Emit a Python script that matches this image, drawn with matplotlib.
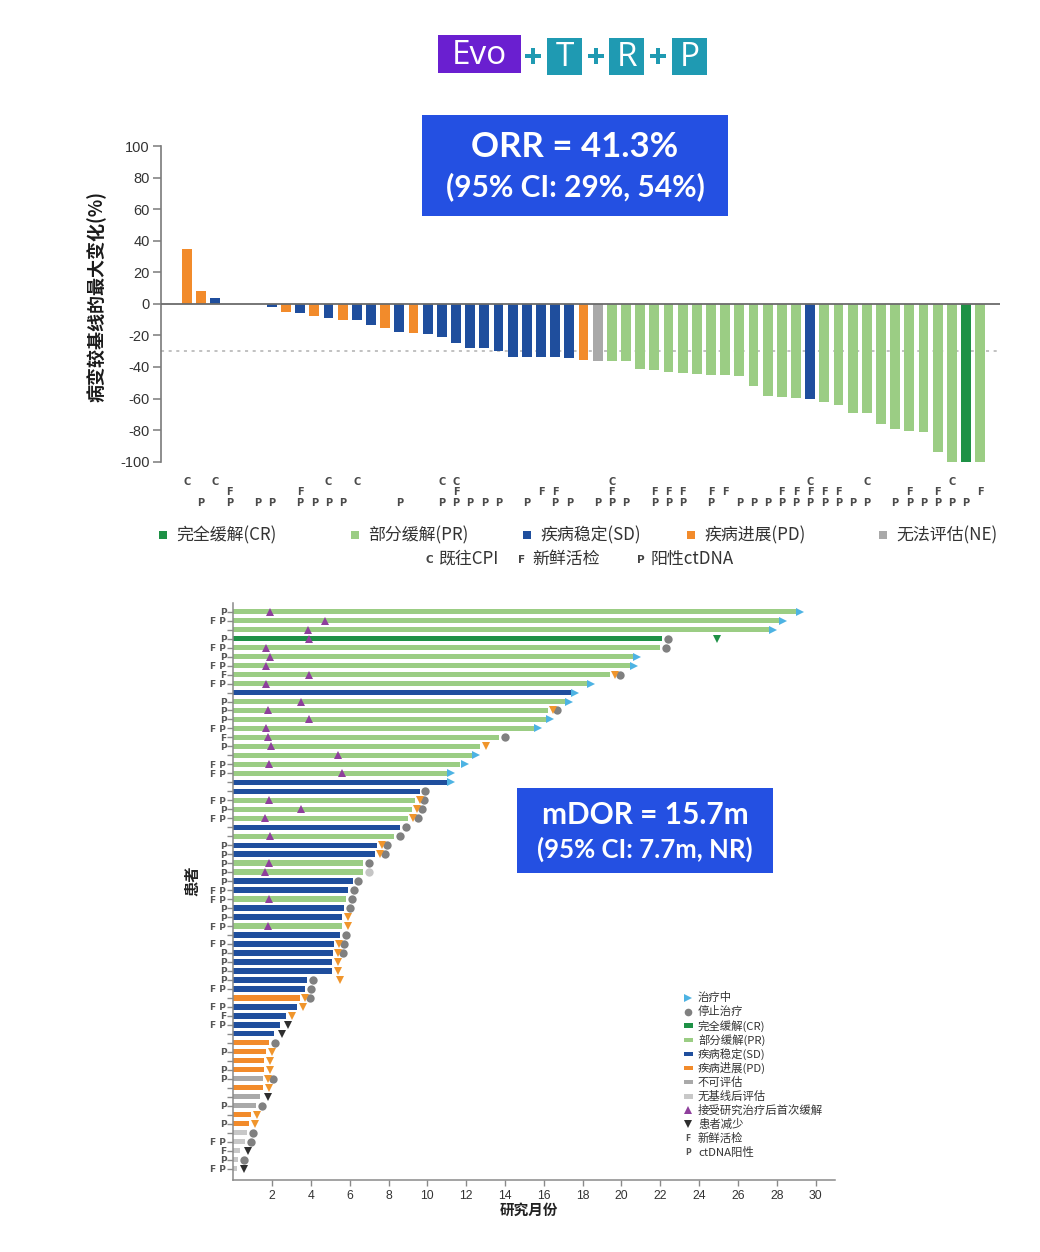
import matplotlib
matplotlib.use("Agg")
import matplotlib.pyplot as plt
from matplotlib.patches import Rectangle
from matplotlib.lines import Line2D

plt.rcParams['font.family'] = ['Noto Sans CJK SC', 'DejaVu Sans']

# ---------------- data: waterfall (best % change from baseline) ----------------
wf_change = [35, 8, 3.5, 0, 0, 0, -2, -5, -5.5, -8, -9, -10, -10.5, -13.5, -15, -18,
             -18.5, -19, -21, -25, -28, -28, -30, -33.5, -33.5, -33.5, -33.5, -34, -35.5,
             -36, -36.5, -36.5, -41, -42, -43, -44, -44.5, -45, -45, -46, -52, -58.5,
             -59, -59.5, -60, -62, -64, -69, -69, -76, -79, -80.5, -81.5, -94, -100,
             -100, -100]
wf_response = (['PD', 'PD', 'SD', 'SD', 'SD', 'SD', 'SD', 'PD', 'SD', 'PD', 'SD', 'PD',
                'SD', 'SD', 'PD', 'SD', 'PD'] + ['SD'] * 11 + ['PD', 'NE'] + ['PR'] * 14
               + ['SD'] + ['PR'] * 10 + ['CR', 'PR'])
wf_flags = ['C', 'P', 'C', 'FP', '', 'P', 'P', '', 'FP', 'P', 'CP', 'P', 'C', '', '', 'P',
            '', '', 'CP', 'CFP', 'P', 'P', 'P', '', 'P', 'F', 'FP', 'P', '', 'P', 'CFP',
            'P', '', 'FP', 'FP', 'FP', '', 'FP', 'F', 'P', 'P', 'P', 'FP', 'FP', 'CFP',
            'FP', 'FP', 'P', 'CP', '', 'P', 'FP', 'P', 'FP', 'CP', 'P', 'F']
wf_yticks = list(range(-100, 101, 20))
orr_lines = ['ORR = 41.3%', '(95% CI: 29%, 54%)']

# ---------------- data: swimmer (months on study, one row per patient) ----------------
sw_duration = [29.0, 28.1, 27.6, 22.1, 22.0, 20.6, 20.45, 19.4, 18.2, 17.4, 17.1, 16.2,
               16.1, 15.5, 13.7, 12.7, 12.3, 11.7, 11.0, 11.0, 9.6, 9.35, 9.2, 9.0, 8.6,
               8.3, 7.4, 7.3, 6.7, 6.7, 6.15, 5.9, 5.8, 5.7, 5.6, 5.6, 5.5, 5.2, 5.15,
               5.1, 5.1, 3.8, 3.7, 3.45, 3.3, 2.7, 2.4, 2.1, 1.85, 1.7, 1.6, 1.6, 1.55,
               1.55, 1.4, 1.17, 0.9, 0.8, 0.7, 0.6, 0.35, 0.25, 0.17]
sw_response = ['PR', 'PR', 'PR', 'CR', 'PR', 'PR', 'PR', 'PR', 'PR', 'SD', 'PR', 'PR',
               'PR', 'PR', 'PR', 'PR', 'PR', 'PR', 'PR', 'SD', 'SD', 'PR', 'PR', 'PR',
               'SD', 'PR', 'SD', 'SD', 'PR', 'PR', 'SD', 'SD', 'PR', 'SD', 'SD', 'PR',
               'SD', 'SD', 'SD', 'SD', 'SD', 'SD', 'SD', 'PD', 'SD', 'SD', 'SD', 'SD',
               'PD', 'PD', 'PD', 'PD', 'NE', 'PD', 'NE', 'NE', 'PD', 'PD', 'NPB', 'NPB',
               'NPB', 'NPB', 'NPB']
sw_first_response = [1.9, 4.7, 3.85, 3.9, 1.7, 1.9, 1.68, 3.9, 1.68, None, 3.5, 1.77,
                     3.9, 1.7, 1.77, 1.92, 5.4, 1.85, 5.6, None, None, 1.85, 3.5, 1.65,
                     None, 1.9, None, None, 1.85, 1.65, None, None, 1.85, None, None,
                     1.77] + [None] * 27
sw_status = ['on', 'on', 'on', 'off', 'off', 'on', 'on', 'pd_off', 'on', 'on', 'on',
             'pd_off', 'on', 'on', 'off', 'pd', 'on', 'on', 'on', 'on', 'off', 'pd_off',
             'pd_off', 'pd_off', 'off', 'off', 'pd_off', 'pd_off', 'off', 'off', 'off',
             'off', 'off', 'off', 'pd', 'pd', 'off', 'pd_off', 'pd_off', 'pd', 'pd',
             'off', 'off', 'pd_off', 'pd', 'pd', 'lost', 'lost', 'off', 'pd', 'pd', 'pd',
             'pd_off', 'pd', 'lost', 'off', 'pd', 'pd', 'off', 'off', 'lost', 'off',
             'lost']
sw_flags = ['P', 'FP', '', 'P', 'FP', 'P', 'FP', 'F', 'FP', '', 'P', 'P', 'P', 'FP', 'F',
            'P', '', 'FP', 'FP', '', '', 'FP', 'P', 'FP', '', '', 'P', 'P', 'P', 'P', 'P',
            'FP', 'FP', 'P', 'P', 'FP', '', 'FP', 'P', 'P', 'P', 'P', 'FP', '', 'FP', 'F',
            'FP', '', '', 'P', '', 'P', 'P', '', '', 'P', '', 'P', '', 'FP', 'F', 'P', 'FP']
sw_late_pd = {41: 5.5}        # progression recorded after treatment stop
sw_late_cr_event = {3: 24.9}  # later event on the CR patient
sw_xticks = list(range(2, 31, 2))
mdor_lines = ['mDOR = 15.7m', '(95% CI: 7.7m, NR)']

# ---------------- styling ----------------
RESP_COLORS = {'CR': '#1e9146', 'PR': '#9bcd84', 'SD': '#1f4e9d', 'PD': '#f28b2b',
               'NE': '#a9a9a9', 'NPB': '#c8c8c8'}
C_ONGOING = '#4db3e3'
C_STOP = '#808080'
C_PD = '#f0952c'
C_LOST = '#2e2e2e'
C_FIRST = '#8e3f9c'
BOX_BLUE = '#2450e2'
PURPLE = '#6a1fd0'
TEAL = '#1f9ab2'

W, H = 1040, 1252
fig = plt.figure(figsize=(W / 100, H / 100), dpi=100)
fig.patch.set_facecolor('white')


def fx(px):
    return px / W


def fy(py):
    return 1 - py / H


def fig_rect(x0, y0, x1, y1, color):
    fig.add_artist(Rectangle((fx(x0), fy(y1)), (x1 - x0) / W, (y1 - y0) / H,
                             facecolor=color, edgecolor='none',
                             transform=fig.transFigure))


# ---------------- header: regimen tiles ----------------
fig_rect(438, 35, 521, 73, PURPLE)
fig.text(fx(479.5), fy(55), 'Evo', color='white', fontsize=24, ha='center',
         va='center', family=['Open Sans', 'DejaVu Sans'])
for xc in (533, 595.5, 658):
    # plus signs between the tiles
    fig_rect(xc - 8, 54, xc + 8, 58, TEAL)
    fig_rect(xc - 2, 48, xc + 2, 64, TEAL)
for (x0, x1), letter in zip([(547, 582), (609, 644), (672, 707)], ['T', 'R', 'P']):
    fig_rect(x0, 38, x1, 75, TEAL)
    fig.text(fx((x0 + x1) / 2), fy(57), letter, color='white', fontsize=24,
             ha='center', va='center', family=['Open Sans', 'DejaVu Sans'])

# ---------------- waterfall plot ----------------
ax1 = fig.add_axes([fx(161), fy(461.7), (1000 - 161) / W, (461.7 - 146) / H])
idx = list(range(len(wf_change)))
ax1.bar(idx, wf_change, width=0.7, color=[RESP_COLORS[r] for r in wf_response],
        zorder=2)
ax1.set_xlim(-1.82, 57.4)
ax1.set_ylim(-100, 100)
ax1.axhline(0, color='#6b6b6b', lw=1.3, zorder=3)
ax1.axhline(-30, color='#b0b0b0', lw=1.1, ls=(0, (2, 3)), zorder=1)
for s in ('top', 'right', 'bottom'):
    ax1.spines[s].set_visible(False)
ax1.spines['left'].set_color('#7a7a7a')
ax1.spines['left'].set_linewidth(1.2)
ax1.set_xticks([])
ax1.set_yticks(wf_yticks)
ax1.set_yticklabels([str(v) for v in wf_yticks])
ax1.tick_params(axis='y', length=6, width=1.1, color='#7a7a7a', labelsize=10.5,
                labelcolor='#333333', pad=2)
for lab in ax1.get_yticklabels():
    lab.set_family(['Liberation Sans', 'DejaVu Sans'])
flag_rows = {'C': -112.8, 'F': -119.3, 'P': -126.2}
for i, f in enumerate(wf_flags):
    for letter, yv in flag_rows.items():
        if letter in f:
            ax1.text(i, yv, letter, ha='center', va='center', fontsize=7,
                     color='#4a4a4a', fontweight='bold', clip_on=False,
                     family=['DejaVu Sans'])
fig.text(fx(97), fy(296), '病变较基线的最大变化(%)', rotation=90, ha='center',
         va='center', fontsize=13, fontweight='bold', color='#1a1a1a')

# ORR box
fig_rect(422, 115, 728, 216, BOX_BLUE)
fig.text(fx(575), fy(147), orr_lines[0], color='white', fontsize=25, fontweight='bold',
         ha='center', va='center', family=['Lato', 'DejaVu Sans'])
fig.text(fx(575), fy(187), orr_lines[1], color='white', fontsize=21.5, fontweight='bold',
         ha='center', va='center', family=['Lato', 'DejaVu Sans'])

# waterfall legend
leg1 = [(159, 'CR', '完全缓解(CR)'), (351, 'PR', '部分缓解(PR)'), (523, 'SD', '疾病稳定(SD)'),
        (687, 'PD', '疾病进展(PD)'), (879, 'NE', '无法评估(NE)')]
for x0, key, label in leg1:
    fig_rect(x0, 531, x0 + 8, 539, RESP_COLORS[key])
    fig.text(fx(x0 + 17), fy(535), label, fontsize=12.2, ha='left', va='center',
             color='#333333')
leg2 = [(429, 'C', '既往CPI'), (522, 'F', '新鲜活检'), (641, 'P', '阳性ctDNA')]
for x0, letter, label in leg2:
    fig.text(fx(x0), fy(560), letter, fontsize=7.5, ha='center', va='center',
             color='#444444', fontweight='bold', family=['DejaVu Sans'])
    fig.text(fx(x0 + 10), fy(559), label, fontsize=12.2, ha='left', va='center',
             color='#333333')

# ---------------- swimmer plot ----------------
ax2 = fig.add_axes([fx(233.3), fy(1180), (835 - 233.3) / W, (1180 - 603) / H])
n = len(sw_duration)
rows = list(range(n))
ax2.barh(rows, sw_duration, height=0.6, color=[RESP_COLORS[r] for r in sw_response],
         zorder=2)
ax2.set_xlim(0, 31)
ax2.set_ylim(63.28, -0.97)

ms = 6
for k in rows:
    d = sw_duration[k]
    st = sw_status[k]
    if st == 'on':
        ax2.plot(d + 0.22, k, marker='>', color=C_ONGOING, ms=ms, mew=0, zorder=4)
    elif st == 'off':
        alpha = 0.45 if k == 29 else 1.0
        ax2.plot(d + 0.3, k, marker='o', color=C_STOP, ms=ms, mew=0, zorder=4,
                 alpha=alpha)
    elif st == 'pd':
        ax2.plot(d + 0.3, k, marker='v', color=C_PD, ms=ms, mew=0, zorder=4)
    elif st == 'pd_off':
        ax2.plot(d + 0.5, k, marker='o', color=C_STOP, ms=ms, mew=0, zorder=3)
        ax2.plot(d + 0.25, k, marker='v', color=C_PD, ms=ms, mew=0, zorder=4)
    elif st == 'lost':
        ax2.plot(d + 0.4, k, marker='v', color=C_LOST, ms=ms, mew=0, zorder=4)
    if sw_first_response[k] is not None:
        ax2.plot(sw_first_response[k], k, marker='^', color=C_FIRST, ms=ms, mew=0,
                 zorder=5)
for k, xv in sw_late_pd.items():
    ax2.plot(xv, k, marker='v', color=C_PD, ms=ms, mew=0, zorder=4)
for k, xv in sw_late_cr_event.items():
    ax2.plot(xv, k, marker='v', color=RESP_COLORS['CR'], ms=ms, mew=0, zorder=4)

for s in ('top', 'right'):
    ax2.spines[s].set_visible(False)
for s in ('left', 'bottom'):
    ax2.spines[s].set_color('#8a8a8a')
    ax2.spines[s].set_linewidth(1.1)
ax2.set_xticks(sw_xticks)
ax2.set_xticklabels([str(v) for v in sw_xticks])
ax2.tick_params(axis='x', length=4, width=1, color='#8a8a8a', labelsize=8.8,
                labelcolor='#333333', pad=3)
ax2.set_yticks(rows)
ax2.set_yticklabels([' '.join(f) for f in sw_flags])
ax2.tick_params(axis='y', length=4, width=1, color='#8a8a8a', labelsize=6.5,
                labelcolor='#555555', pad=1)
for lab in ax2.get_yticklabels():
    lab.set_fontweight('bold')
    lab.set_family(['DejaVu Sans'])
for lab in ax2.get_xticklabels():
    lab.set_family(['Liberation Sans', 'DejaVu Sans'])

fig.text(fx(529), fy(1210), '研究月份', ha='center', va='center', fontsize=10.5,
         fontweight='bold', color='#222222')
fig.text(fx(192), fy(881), '患者', rotation=90, ha='center', va='center',
         fontsize=11, fontweight='bold', color='#222222')

# mDOR box
fig_rect(517, 788, 773, 873, BOX_BLUE)
fig.text(fx(645), fy(815), mdor_lines[0], color='white', fontsize=21.5, fontweight='bold',
         ha='center', va='center', family=['Lato', 'DejaVu Sans'])
fig.text(fx(645), fy(849), mdor_lines[1], color='white', fontsize=18.5, fontweight='bold',
         ha='center', va='center', family=['Lato', 'DejaVu Sans'])

# swimmer legend
leg_items = [('marker', '>', C_ONGOING, '治疗中'),
             ('marker', 'o', C_STOP, '停止治疗'),
             ('bar', None, RESP_COLORS['CR'], '完全缓解(CR)'),
             ('bar', None, RESP_COLORS['PR'], '部分缓解(PR)'),
             ('bar', None, RESP_COLORS['SD'], '疾病稳定(SD)'),
             ('bar', None, RESP_COLORS['PD'], '疾病进展(PD)'),
             ('bar', None, RESP_COLORS['NE'], '不可评估'),
             ('bar', None, RESP_COLORS['NPB'], '无基线后评估'),
             ('marker', '^', C_FIRST, '接受研究治疗后首次缓解'),
             ('marker', 'v', C_LOST, '患者减少'),
             ('letter', 'F', '#555555', '新鲜活检'),
             ('letter', 'P', '#555555', 'ctDNA阳性')]
y0 = 997.5
for j, (kind, sym, col, label) in enumerate(leg_items):
    yy = y0 + j * 14.1
    if kind == 'marker':
        fig.add_artist(Line2D([fx(688)], [fy(yy)], marker=sym, color=col, ms=5.5,
                              mew=0, transform=fig.transFigure))
    elif kind == 'bar':
        fig_rect(684, yy - 2.3, 693, yy + 2.3, col)
    else:
        fig.text(fx(688), fy(yy), sym, fontsize=5.5, ha='center', va='center',
                 color=col, fontweight='bold', family=['DejaVu Sans'])
    fig.text(fx(698), fy(yy), label, fontsize=8.2, ha='left', va='center',
             color='#333333')

fig.savefig('out.png', dpi=100, facecolor='white')
